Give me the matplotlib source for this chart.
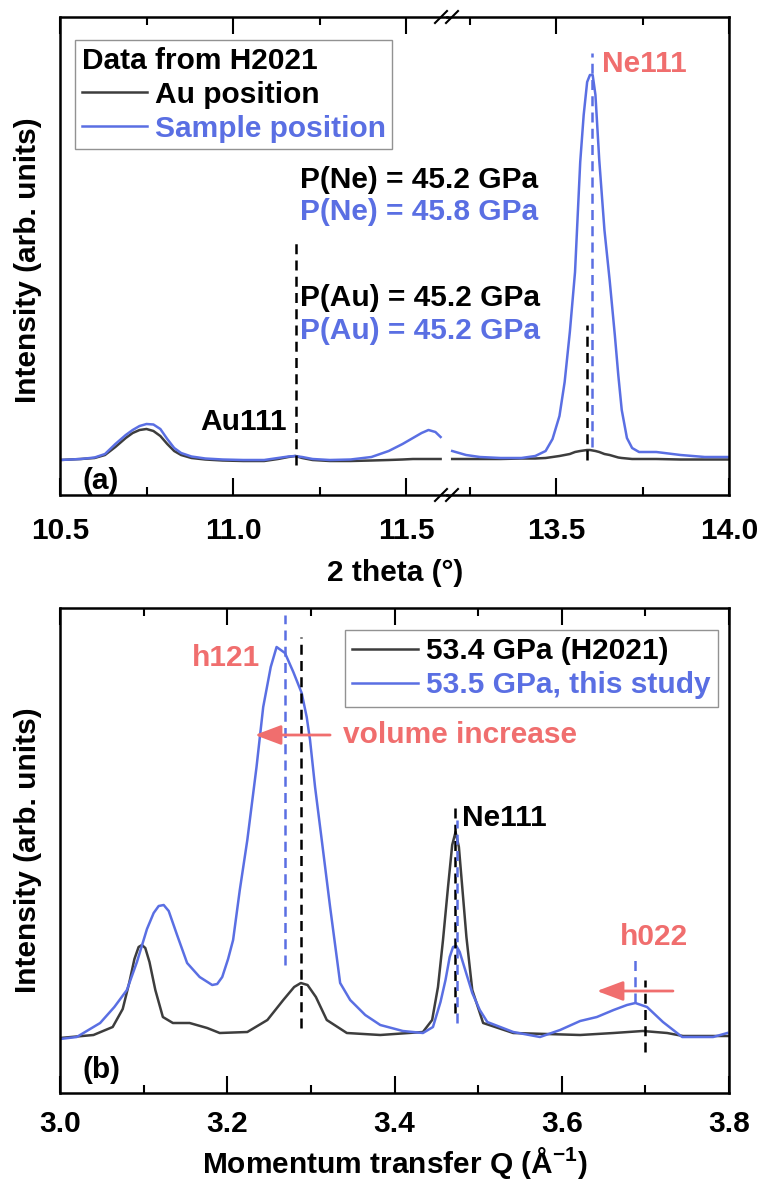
import numpy as np
import matplotlib.pyplot as plt
from matplotlib.lines import Line2D

# 字型設定：Arial 風格粗體
plt.rcParams['font.family'] = ['Liberation Sans', 'DejaVu Sans']
plt.rcParams['font.weight'] = 'bold'
plt.rcParams['axes.labelweight'] = 'bold'
plt.rcParams['mathtext.fontset'] = 'custom'
plt.rcParams['mathtext.rm'] = 'Liberation Sans:bold'
plt.rcParams['mathtext.it'] = 'Liberation Sans:bold'
plt.rcParams['mathtext.bf'] = 'Liberation Sans:bold'

BLUE = '#5a6fe3'
GRAY = '#3d3d3d'
RED = '#f06e6e'
FS = 21.5

# ---- (a) 2 theta (deg), intensity (arb. units) ----
tt_low = [10.50, 10.56, 10.60, 10.63, 10.66, 10.69, 10.71, 10.73, 10.75, 10.77,
          10.79, 10.81, 10.83, 10.85, 10.88, 10.92, 10.97, 11.03, 11.09, 11.13,
          11.16, 11.18, 11.20, 11.23, 11.28, 11.34, 11.40, 11.45, 11.49, 11.52,
          11.545, 11.565, 11.585, 11.60]
au_pos_low = [0, 1, 2, 5, 13, 22, 27, 30, 31, 29,
              24, 16, 9, 5, 2, 0.5, -0.5, -1, -1, 1,
              3, 4, 2, 0, -1, -1, -0.5, 0, 0.5, 1,
              1, 1, 1, 1]
sample_pos_low = [0, 1, 2.5, 6, 16, 25, 30, 34, 36, 35.5,
                  31, 21, 12, 7, 3.5, 1.5, 0.5, 0, 0, 2,
                  3.5, 4, 3, 1, 0, 0.5, 3, 9, 16, 22,
                  27, 30, 28, 23]

tt_high = [13.20, 13.24, 13.28, 13.34, 13.40, 13.44, 13.47, 13.49, 13.51, 13.525,
           13.54, 13.555, 13.57, 13.58, 13.59, 13.598, 13.606, 13.614, 13.625, 13.64,
           13.655, 13.67, 13.68, 13.69, 13.705, 13.72, 13.74, 13.79, 13.86, 13.93,
           14.00]
au_pos_high = [1, 1, 1, 1, 1.5, 1.5, 2, 3, 4, 5,
               6, 8, 9, 9.5, 10, 10, 9.5, 9, 8, 6,
               5, 3.5, 2.5, 2, 1.5, 1, 1, 1, 0.5, 0.5,
               0.5]
sample_pos_high = [9, 5, 3, 2, 2, 4, 9, 21, 44, 78,
                   128, 188, 298, 345, 378, 385, 385, 365, 300, 230,
                   180, 125, 85, 50, 22, 12, 8, 8, 5, 3,
                   3]

# 參考虛線：(位置, 下端, 上端)
au111_black = (11.182, -5, 217)
ne111_black_a = (13.590, 0, 135)
ne111_blue_a = (13.604, 13, 407)

# ---- (b) Q (1/A), intensity ----
q_h2021 = [3.000, 3.040, 3.063, 3.075, 3.083, 3.089, 3.094, 3.098, 3.102, 3.107,
           3.114, 3.123, 3.135, 3.155, 3.176, 3.191, 3.224, 3.248, 3.267, 3.280,
           3.288, 3.296, 3.306, 3.319, 3.343, 3.383, 3.434, 3.445, 3.452, 3.458,
           3.464, 3.469, 3.473, 3.477, 3.481, 3.486, 3.493, 3.506, 3.542, 3.622,
           3.662, 3.697, 3.726, 3.745, 3.800]
i_h2021 = [-1, 2, 10, 28, 55, 78, 90, 92, 89, 75,
           47, 20, 14, 14, 9, 4, 5, 17, 37, 50,
           54, 52, 40, 17, 4, 2, 5, 17, 50, 97,
           150, 192, 205, 190, 150, 100, 47, 14, 4, 2,
           4, 6, 4, 1, 1]

q_study = [3.000, 3.020, 3.048, 3.065, 3.080, 3.092, 3.104, 3.112, 3.118, 3.124,
           3.130, 3.140, 3.152, 3.167, 3.182, 3.188, 3.194, 3.201, 3.207, 3.215,
           3.224, 3.235, 3.243, 3.252, 3.259, 3.264, 3.269, 3.279, 3.289, 3.295,
           3.299, 3.305, 3.313, 3.323, 3.335, 3.347, 3.365, 3.383, 3.410, 3.434,
           3.446, 3.455, 3.461, 3.466, 3.470, 3.474, 3.478, 3.482, 3.493, 3.502,
           3.511, 3.542, 3.574, 3.598, 3.622, 3.642, 3.662, 3.678, 3.688, 3.702,
           3.721, 3.744, 3.762, 3.781, 3.798]
i_study = [-2, 0, 14, 30, 47, 75, 108, 124, 131, 132,
           126, 102, 74, 60, 52, 53, 60, 78, 97, 147,
           197, 270, 330, 370, 390, 387, 384, 365, 344, 320,
           297, 250, 197, 130, 54, 37, 22, 12, 6, 4,
           10, 35, 57, 80, 90, 91, 85, 74, 44, 27,
           15, 5, 0, 7, 16, 20, 27, 32, 34, 30,
           15, 0, 0, 0, 4]

h121_blue = (3.269, 72, 422)
h121_black = (3.288, 9, 400)
ne111_black_b = (3.472, 24, 235)
ne111_blue_b = (3.475, 14, 217)
h022_blue = (3.687, 34, 82)
h022_black = (3.700, -15, 57)

W, H = 761, 1183
fig = plt.figure(figsize=(W / 100, H / 100), dpi=100)


def px(x, y):
    return x / W, 1 - y / H


def style_axis(ax):
    ax.tick_params(axis='x', which='both', direction='in', top=True, bottom=True,
                   width=1.5, labelsize=FS)
    ax.tick_params(axis='x', which='major', length=12)
    ax.tick_params(axis='x', which='minor', length=6)
    ax.tick_params(axis='y', left=False, right=False, labelleft=False)
    for s in ax.spines.values():
        s.set_linewidth(1.8)


def vdash(ax, line, color):
    x0, y0, y1 = line
    ax.plot([x0, x0], [y0, y1], color=color, lw=1.8, ls=(0, (4, 2.5)))


# ====== (a) 斷軸 ======
ax_l = fig.add_axes([60 / W, 1 - 495 / H, 387 / W, 478 / H])
ax_r = fig.add_axes([447 / W, 1 - 495 / H, 282 / W, 478 / H], sharey=ax_l)
ax_l.patch.set_visible(False)
ax_r.patch.set_visible(False)
ax_l.set_zorder(3)

ax_l.plot(tt_low, au_pos_low, color=GRAY, lw=1.8)
ax_l.plot(tt_low, sample_pos_low, color=BLUE, lw=1.8)
ax_r.plot(tt_high, au_pos_high, color=GRAY, lw=1.8)
ax_r.plot(tt_high, sample_pos_high, color=BLUE, lw=1.8)

vdash(ax_l, au111_black, 'black')
vdash(ax_r, ne111_black_a, 'black')
vdash(ax_r, ne111_blue_a, BLUE)

ax_l.set_xlim(10.5, 10.5 + 387 / 346)
ax_r.set_xlim(14.0 - 282 / 346, 14.0)
ax_l.set_ylim(-35, 443)
ax_l.set_xticks([10.5, 11.0, 11.5])
ax_l.set_xticks([10.75, 11.25], minor=True)
ax_l.set_xticklabels(['10.5', '11.0', '11.5'])
ax_r.set_xticks([13.5, 14.0])
ax_r.set_xticks([13.25, 13.75], minor=True)
ax_r.set_xticklabels(['13.5', '14.0'])
for ax in (ax_l, ax_r):
    style_axis(ax)
    ax.tick_params(axis='x', pad=16)
ax_l.spines['right'].set_visible(False)
ax_r.spines['left'].set_visible(False)

# 斷軸記號 //
for yb in (17, 495):
    for xc in (441, 452):
        x0, y0 = px(xc - 6, yb + 6)
        x1, y1 = px(xc + 6, yb - 6)
        fig.add_artist(Line2D([x0, x1], [y0, y1], color='black', lw=1.5))

ax_l.text(11.156, 38, 'Au111', ha='right', va='center', fontsize=FS)
ax_l.text(10.566, -21, '(a)', ha='left', va='center', fontsize=FS)
ax_l.text(11.194, 280, 'P(Ne) = 45.2 GPa', ha='left', va='center', fontsize=FS,
          color='black', clip_on=False)
ax_l.text(11.194, 248, 'P(Ne) = 45.8 GPa', ha='left', va='center', fontsize=FS,
          color=BLUE, clip_on=False)
ax_l.text(11.194, 162, 'P(Au) = 45.2 GPa', ha='left', va='center', fontsize=FS,
          color='black', clip_on=False)
ax_l.text(11.194, 129, 'P(Au) = 45.2 GPa', ha='left', va='center', fontsize=FS,
          color=BLUE, clip_on=False)
ax_r.text(13.633, 396, 'Ne111', ha='left', va='center', fontsize=FS, color=RED)

handles_a = [Line2D([], [], color=GRAY, lw=1.8), Line2D([], [], color=BLUE, lw=1.8)]
leg_a = ax_l.legend(handles_a, ['Au position', 'Sample position'],
                    title='Data from H2021', alignment='left',
                    title_fontproperties={'size': FS, 'weight': 'bold'},
                    prop={'size': FS, 'weight': 'bold'}, labelcolor=['black', BLUE],
                    loc='upper left', bbox_to_anchor=px(75, 40),
                    bbox_transform=fig.transFigure, borderaxespad=0,
                    frameon=True, fancybox=False, edgecolor='#777777',
                    handlelength=2.2, handletextpad=0.25, labelspacing=0.2,
                    borderpad=0.22)
leg_a.get_frame().set_linewidth(1.0)

fig.text(*px(395, 573), '2 theta (°)', ha='center', va='center', fontsize=FS)
ax_l.set_ylabel('Intensity (arb. units)', fontsize=FS)
ax_l.yaxis.set_label_coords((42 - 60) / 387, (495 - 260) / 478)

# ====== (b) ======
ax_b = fig.add_axes([60 / W, 1 - 1093 / H, 669 / W, 485 / H])
ax_b.plot(q_h2021, i_h2021, color=GRAY, lw=1.8, label='53.4 GPa (H2021)')
ax_b.plot(q_study, i_study, color=BLUE, lw=1.8, label='53.5 GPa, this study')

vdash(ax_b, h121_blue, BLUE)
vdash(ax_b, h121_black, 'black')
vdash(ax_b, ne111_black_b, 'black')
vdash(ax_b, ne111_blue_b, BLUE)
vdash(ax_b, h022_blue, BLUE)
vdash(ax_b, h022_black, 'black')

ax_b.set_xlim(3.0, 3.8)
ax_b.set_ylim(-56, 429)
ax_b.set_xticks([3.0, 3.2, 3.4, 3.6, 3.8])
ax_b.set_xticks([3.1, 3.3, 3.5, 3.7], minor=True)
ax_b.set_xticklabels(['3.0', '3.2', '3.4', '3.6', '3.8'])
style_axis(ax_b)
ax_b.tick_params(axis='x', pad=12)

arrow = dict(arrowstyle='-|>,head_length=0.8,head_width=0.3', color=RED, lw=2,
             shrinkA=0, shrinkB=0, mutation_scale=20)
ax_b.annotate('', xy=(3.233, 302), xytext=(3.323, 302), arrowprops=arrow)
ax_b.annotate('', xy=(3.642, 46), xytext=(3.733, 46), arrowprops=arrow)

ax_b.text(3.239, 379, 'h121', ha='right', va='center', fontsize=FS, color=RED)
ax_b.text(3.339, 302, 'volume increase', ha='left', va='center', fontsize=FS, color=RED)
ax_b.text(3.481, 219, 'Ne111', ha='left', va='center', fontsize=FS, color='black')
ax_b.text(3.670, 100, 'h022', ha='left', va='center', fontsize=FS, color=RED)
ax_b.text(3.0275, -33, '(b)', ha='left', va='center', fontsize=FS)

leg_b = ax_b.legend(prop={'size': FS, 'weight': 'bold'}, labelcolor=['black', BLUE],
                    loc='upper left', bbox_to_anchor=px(345, 630),
                    bbox_transform=fig.transFigure, borderaxespad=0,
                    frameon=True, fancybox=False, edgecolor='#777777',
                    handlelength=2.2, handletextpad=0.25, labelspacing=0.2,
                    borderpad=0.25)
leg_b.get_frame().set_linewidth(1.0)

fig.text(*px(395, 1163), 'Momentum transfer Q (Å$^{-1}$)', ha='center', va='center',
         fontsize=FS)
ax_b.set_ylabel('Intensity (arb. units)', fontsize=FS)
ax_b.yaxis.set_label_coords((42 - 60) / 669, (1093 - 850) / 485)

fig.savefig('out.png', dpi=100)
